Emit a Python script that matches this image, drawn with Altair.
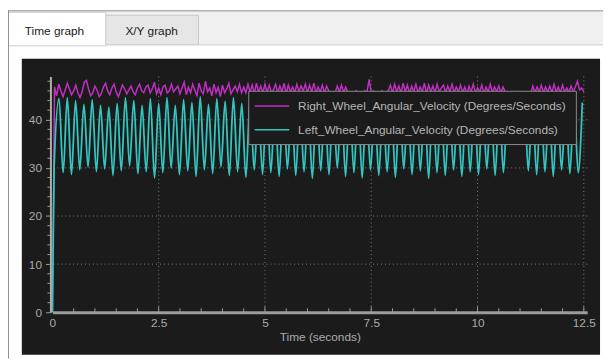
import altair as alt
import pandas as pd

# ---------------- data ----------------
SERIES = ["Right_Wheel_Angular_Velocity (Degrees/Seconds)",
          "Left_Wheel_Angular_Velocity (Degrees/Seconds)"]
COLORS = ["#c22ec2", "#33c6c0"]
TABS = ["Time graph", "X/Y graph"]
X_AXIS_TITLE = "Time (seconds)"

X_TICKS = [0, 2.5, 5, 7.5, 10, 12.5]
Y_TICKS = [0, 10, 20, 30, 40]
X_MINOR = [0.5, 1, 1.5, 2, 3, 3.5, 4, 4.5, 5.5, 6, 6.5, 7, 8, 8.5, 9, 9.5,
           10.5, 11, 11.5, 12]
Y_MINOR = [2, 4, 6, 8, 12, 14, 16, 18, 22, 24, 26, 28, 32, 34, 36, 38,
           42, 44, 46, 48]

# Right wheel (magenta), sampled every 0.05 s from t = 0
RIGHT_DT = 0.05
RIGHT = [
    0.0,
    46.8, 45.0, 47.4, 46.0, 44.8, 46.2, 47.6, 46.4, 45.2, 46.0,
    47.2, 45.6, 44.6, 45.8, 47.8, 48.2, 46.4, 45.0, 45.6, 47.0,
    46.2, 44.8, 45.4, 46.8, 47.6, 46.0, 45.2, 46.6, 47.4, 45.8,
    44.8, 46.0, 47.2, 46.4, 45.4, 46.2, 47.0, 45.8, 45.2, 46.6,
    47.4, 46.0, 45.6, 46.8, 47.2, 45.6, 46.4, 47.8, 45.4, 46.6,
    45.2, 46.8, 47.2, 45.6, 46.0, 47.4, 45.8, 46.4, 47.0, 45.4,
    46.6, 47.8, 45.2, 46.8, 45.6, 47.4, 46.2, 45.0, 47.6, 46.0,
    45.4, 48.0, 45.8, 46.6, 45.0, 47.4, 45.6, 46.8, 44.8, 47.2,
    45.6, 46.4, 47.6, 45.4, 46.2, 47.0, 45.8, 47.4, 45.6, 46.8,
    45.6, 47.4, 45.8, 47.2, 45.4, 47.6, 45.8, 47.0, 45.6, 47.4,
    45.8, 47.2, 45.6, 46.2, 47.4, 45.6, 47.0, 45.8, 47.6, 45.4,
    47.2, 45.8, 46.8, 45.6, 47.4, 45.8, 47.0, 46.0, 47.4, 45.6,
    47.2, 45.8, 47.6, 45.6, 46.8, 45.8, 47.2, 45.6, 47.0, 46.0,
    45.6, 45.8, 45.6, 47.0, 45.8, 47.2, 45.6, 46.8, 45.6, 45.8,
    45.8, 45.6, 46.0, 45.4, 45.8, 45.6, 46.0, 45.8, 48.4, 45.6,
    46.0, 45.6, 45.8, 45.4, 46.0, 45.6, 45.8, 46.0, 47.2, 45.6,
    47.4, 45.8, 47.0, 45.6, 47.6, 45.8, 47.2, 45.4, 47.0, 45.8,
    47.4, 45.6, 46.8, 45.8, 47.6, 45.4, 47.2, 45.8, 47.0, 45.6,
    47.4, 45.8, 46.6, 47.2, 45.6, 47.0, 45.8, 47.4, 45.6, 46.8,
    45.8, 47.2, 45.6, 46.8, 45.4, 47.0, 45.8, 47.4, 45.6, 46.6,
    45.8, 47.2, 45.4, 46.8, 45.8, 47.4, 45.6, 46.8, 45.8, 47.0,
    45.6, 46.8, 45.8, 45.6, 45.4, 45.8, 45.2, 45.6, 45.4, 45.8,
    45.6, 45.4, 45.8, 45.6, 45.4, 47.0, 45.6, 46.8, 45.8, 47.2,
    45.6, 46.8, 45.8, 47.0, 45.6, 47.4, 45.8, 46.8, 45.6, 47.2,
    45.8, 46.6, 45.6, 47.0, 45.8, 46.8, 48.0, 46.2, 46.6, 45.8,
]

# Left wheel (cyan): start-up points, then alternating peak / trough values
LEFT_START_T = [0.0, 0.04]
LEFT_START_V = [0.0, 30.0]
LEFT_T0 = 0.155      # time of first peak
LEFT_HALF = 0.0977   # half period between peak and trough
LEFT = [
    44.4, 29.0, 44.6, 28.6, 44.0, 29.6, 43.2, 30.2, 44.2, 29.2,
    43.0, 29.8, 42.6, 28.4, 43.4, 29.4, 44.6, 30.4, 44.0, 28.8,
    43.0, 29.2, 44.4, 27.9, 43.4, 29.0, 44.6, 30.0, 43.0, 28.6,
    44.2, 29.4, 43.6, 28.2, 44.8, 29.6, 43.2, 28.8, 44.4, 30.2,
    43.8, 28.4, 44.6, 29.2, 43.4, 28.0, 44.2, 29.6, 43.6, 28.6,
    44.8, 29.0, 43.2, 28.2, 44.4, 29.8, 43.8, 28.4, 44.0, 29.2,
    43.4, 27.8, 44.6, 29.4, 43.2, 28.6, 44.2, 30.0, 43.6, 28.2,
    44.4, 29.0, 43.8, 27.9, 44.6, 29.6, 43.2, 28.4, 44.0, 29.2,
    43.6, 28.0, 44.4, 29.8, 43.0, 28.6, 44.2, 29.4, 43.8, 27.8,
    44.6, 29.0, 43.4, 28.4, 44.0, 29.6, 43.2, 28.2, 44.4, 29.2,
    43.8, 28.6, 44.2, 29.8, 43.6, 28.4, 44.0, 29.0, 43.4, 43.6,
    44.0, 43.8, 44.2, 29.4, 43.6, 28.6, 44.4, 29.2, 43.8, 28.2,
    44.0, 29.6, 43.4, 28.8, 44.2, 29.0, 43.6,
]

# ---------------- tables ----------------
right_df = pd.DataFrame({"t": [i * RIGHT_DT for i in range(len(RIGHT))],
                         "v": RIGHT})
left_df = pd.DataFrame({
    "t": LEFT_START_T + [LEFT_T0 + i * LEFT_HALF for i in range(len(LEFT))],
    "v": LEFT_START_V + LEFT,
})

W, H = 542, 239
FONT = "Liberation Sans"
GRID = "#7c7c7c"
AXC = "#9c9c9c"
TXT = "#ababab"

xscale = alt.Scale(domain=[0, 12.58], nice=False, zero=False)
yscale = alt.Scale(domain=[0, 49], nice=False, zero=False)

xaxis = alt.Axis(values=X_TICKS, format=".1~f", title=X_AXIS_TITLE, grid=False,
                 ticks=False, domainColor=AXC, domainWidth=3, labelColor=TXT,
                 labelFont=FONT, labelFontSize=12, labelPadding=5,
                 labelFlush=False, titleColor=TXT, titleFont=FONT,
                 titleFontSize=12, titleFontWeight="normal", titlePadding=4,
                 zindex=1)
yaxis = alt.Axis(values=Y_TICKS, format="d", title=None, grid=False, ticks=True,
                 tickColor=AXC, tickSize=5, domainColor="#b0b0a4", domainWidth=2,
                 labelColor=TXT, labelFont=FONT, labelFontSize=12,
                 labelPadding=4, offset=2, zindex=1)


def X():
    return alt.X("t:Q", scale=xscale, axis=xaxis)


def Y():
    return alt.Y("v:Q", scale=yscale, axis=yaxis)


one = pd.DataFrame({"k": [0]})


def rect(x, x2, y, y2, fill, stroke=None):
    if stroke:
        m = alt.Chart(one).mark_rect(fill=fill, stroke=stroke, strokeWidth=1)
    else:
        m = alt.Chart(one).mark_rect(fill=fill)
    return m.encode(x=alt.value(x), x2=alt.value(x2),
                    y=alt.value(y), y2=alt.value(y2))


def hline(x, x2, y, color, width=1):
    return alt.Chart(one).mark_rule(color=color, strokeWidth=width).encode(
        x=alt.value(x), x2=alt.value(x2), y=alt.value(y))


def vline(x, y, y2, color, width=1):
    return alt.Chart(one).mark_rule(color=color, strokeWidth=width).encode(
        x=alt.value(x), y=alt.value(y), y2=alt.value(y2))


def label(x, y, text, color, align="left"):
    return alt.Chart(one).mark_text(align=align, baseline="middle", font=FONT,
                                    fontSize=12, color=color).encode(
        x=alt.value(x), y=alt.value(y), text=alt.value(text))


# ---------------- window chrome ----------------
chrome = [
    rect(-45, 558, -67, -32, "#f0f0f0"),                 # tab bar
    rect(54, 148, -62, -32, "#e6e6e6", "#c6c6c6"),       # second tab
    rect(-45, 54, -65, -31, "#ffffff", "#cfcfcf"),       # selected tab
    hline(148, 558, -32, "#cfcfcf"),
    vline(-44.5, -67, 286, "#8e8e8e"),
    hline(-45, 558, -66.5, "#8e8e8e"),
    label(-28, -46, TABS[0], "#1a1a1a"),
    label(74, -46, TABS[1], "#1a1a1a"),
    rect(-31, 555, -18, 282, "#1b1b1b"),                 # dark plot panel
]

# ---------------- grid & minor ticks ----------------
gx = alt.Chart(pd.DataFrame({"t": X_TICKS[1:]})).mark_rule(
    color=GRID, strokeDash=[1, 3], strokeWidth=1).encode(x=X())
gy = alt.Chart(pd.DataFrame({"v": Y_TICKS[1:]})).mark_rule(
    color=GRID, strokeDash=[1, 3], strokeWidth=1).encode(y=Y())
mx = alt.Chart(pd.DataFrame({"t": X_MINOR})).mark_rule(
    color=AXC, strokeWidth=1).encode(x=X(), y=alt.value(H - 4), y2=alt.value(H))
Mx = alt.Chart(pd.DataFrame({"t": X_TICKS[1:]})).mark_rule(
    color=AXC, strokeWidth=1).encode(x=X(), y=alt.value(H - 6), y2=alt.value(H))
my = alt.Chart(pd.DataFrame({"v": Y_MINOR})).mark_rule(
    color=AXC, strokeWidth=1).encode(y=Y(), x=alt.value(-5), x2=alt.value(-2))

# ---------------- series ----------------
right_line = alt.Chart(right_df).mark_line(
    color=COLORS[0], strokeWidth=1.5).encode(x=X(), y=Y())
left_line = alt.Chart(left_df).mark_line(
    color=COLORS[1], strokeWidth=1.8, interpolate="monotone").encode(x=X(), y=Y())

# ---------------- legend box ----------------
legend = [
    rect(199, 531, 15, 69, "#1b1b1b", "#8a8a8a"),
    hline(205, 240, 30, COLORS[0], 1.6),
    hline(205, 240, 54, COLORS[1], 1.6),
    label(249, 30, SERIES[0], "#b6b6b6"),
    label(249, 54, SERIES[1], "#b6b6b6"),
]

chart = alt.layer(
    *chrome, gx, gy, mx, Mx, my, right_line, left_line, *legend
).properties(
    width=W, height=H,
    padding={"left": 45, "top": 67, "right": 16, "bottom": 47},
    autosize=alt.AutoSizeParams(type="none"),
    background="#ffffff",
).configure_view(strokeWidth=0)

chart.save("out.html", embed_options={"renderer": "svg", "actions": False})
